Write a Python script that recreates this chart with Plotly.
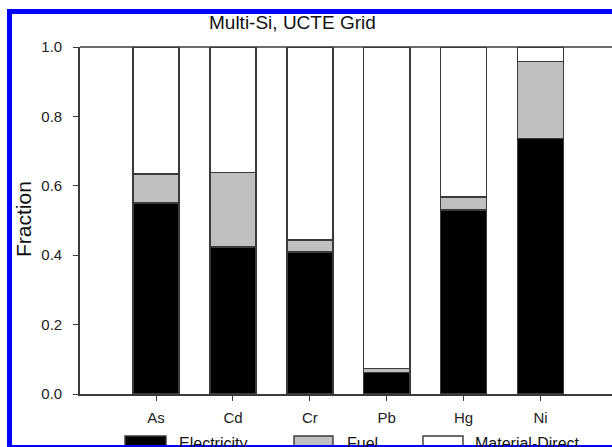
import plotly.graph_objects as go

# ---- data ----
metals = ["As", "Cd", "Cr", "Pb", "Hg", "Ni"]
electricity = [0.550, 0.424, 0.410, 0.062, 0.530, 0.736]
fuel = [0.084, 0.214, 0.034, 0.012, 0.037, 0.222]
material_direct = [round(1 - e - f, 3) for e, f in zip(electricity, fuel)]
series_names = ["Electricity", "Fuel", "Material-Direct"]
series_colors = ["#000000", "#c0c0c0", "#ffffff"]
y_ticks = [0.0, 0.2, 0.4, 0.6, 0.8, 1.0]
title_text = "Multi-Si, UCTE Grid"
y_title = "Fraction"

W, H = 612, 447
L, T, B = 80, 47, 394  # plot area pixel edges
R = W


def px(x):
    return (x - L) / (R - L)


def py(y):
    return (B - y) / (B - T)


FONT = "Arial, Liberation Sans, sans-serif"
LINE = "#3a3a3a"
edge = dict(color=LINE, width=1.6)

fig = go.Figure()
for name, vals, col in zip(series_names, [electricity, fuel, material_direct], series_colors):
    fig.add_trace(go.Bar(x=metals, y=vals, name=name, width=0.6,
                         marker=dict(color=col, line=edge), showlegend=False))

shapes = []
annotations = []

# top frame line
shapes.append(dict(type="line", xref="paper", yref="paper", x0=0, x1=1.0, y0=1, y1=1,
                   line=dict(color=LINE, width=1.6)))

# custom legend (boxes + labels) along the bottom
leg_boxes = [(125, 166), (294, 333), (423, 463)]
leg_text_x = [177, 345, 473]
for (x0, x1), tx, name, col in zip(leg_boxes, leg_text_x, series_names, series_colors):
    shapes.append(dict(type="rect", xref="paper", yref="paper",
                       x0=px(x0), x1=px(x1), y0=py(H), y1=py(436),
                       fillcolor=col, line=dict(color=LINE, width=1.4)))
    annotations.append(dict(text=name, xref="paper", yref="paper",
                            x=px(tx), y=py(433), xanchor="left", yanchor="top",
                            showarrow=False, font=dict(family=FONT, size=16, color="#111")))

# blue frame (kept inside the figure bounds)
blue = "#0000ff"
shapes += [
    dict(type="rect", xref="paper", yref="paper", x0=px(7), x1=px(W),
         y0=py(14), y1=py(9), fillcolor=blue, line=dict(width=0), layer="above"),
    dict(type="rect", xref="paper", yref="paper", x0=px(7), x1=px(12),
         y0=py(H), y1=py(9), fillcolor=blue, line=dict(width=0), layer="above"),
    dict(type="rect", xref="paper", yref="paper", x0=px(7), x1=px(W),
         y0=py(H), y1=py(445), fillcolor=blue, line=dict(width=0), layer="above"),
]

annotations.append(dict(text=title_text, xref="paper", yref="paper",
                        x=px(292), y=py(23), xanchor="center", yanchor="middle",
                        showarrow=False, font=dict(family=FONT, size=19, color="#111")))
annotations.append(dict(text=y_title, xref="paper", yref="paper",
                        x=px(23), y=py(219), xanchor="center", yanchor="middle",
                        textangle=-90, showarrow=False,
                        font=dict(family=FONT, size=21, color="#111")))

fig.update_layout(
    width=W, height=H,
    margin=dict(l=L, r=0, t=T, b=H - B, pad=0),
    barmode="stack",
    plot_bgcolor="white", paper_bgcolor="white",
    font=dict(family=FONT, size=15, color="#222"),
    shapes=shapes, annotations=annotations,
    showlegend=False,
)
fig.update_xaxes(range=[-0.99, 5.93], showline=True, linecolor=LINE, linewidth=1.6,
                 mirror=False, ticks="outside", ticklen=5, tickcolor=LINE,
                 tickwidth=1.4, showgrid=False, zeroline=False,
                 tickfont=dict(family=FONT, size=15, color="#222"),
                 ticklabelstandoff=4)
fig.update_yaxes(range=[0, 1.0], tickvals=y_ticks, ticktext=[f"{v:.1f}" for v in y_ticks],
                 showline=True, linecolor=LINE, linewidth=1.6, mirror=False,
                 ticks="outside", ticklen=5, tickcolor=LINE, tickwidth=1.4,
                 showgrid=False, zeroline=False,
                 tickfont=dict(family=FONT, size=15, color="#222"),
                 ticklabelstandoff=8)

fig.write_html("out.html", config={"displayModeBar": False},
               post_script="document.body.style.margin='0';"
                           "document.body.style.overflow='hidden';"
                           "document.documentElement.style.overflow='hidden';"
                           "document.querySelectorAll('div').forEach(function(d){d.style.overflow='hidden';});"
                           "document.querySelectorAll('svg.main-svg').forEach(function(s){s.style.overflow='hidden';});")
